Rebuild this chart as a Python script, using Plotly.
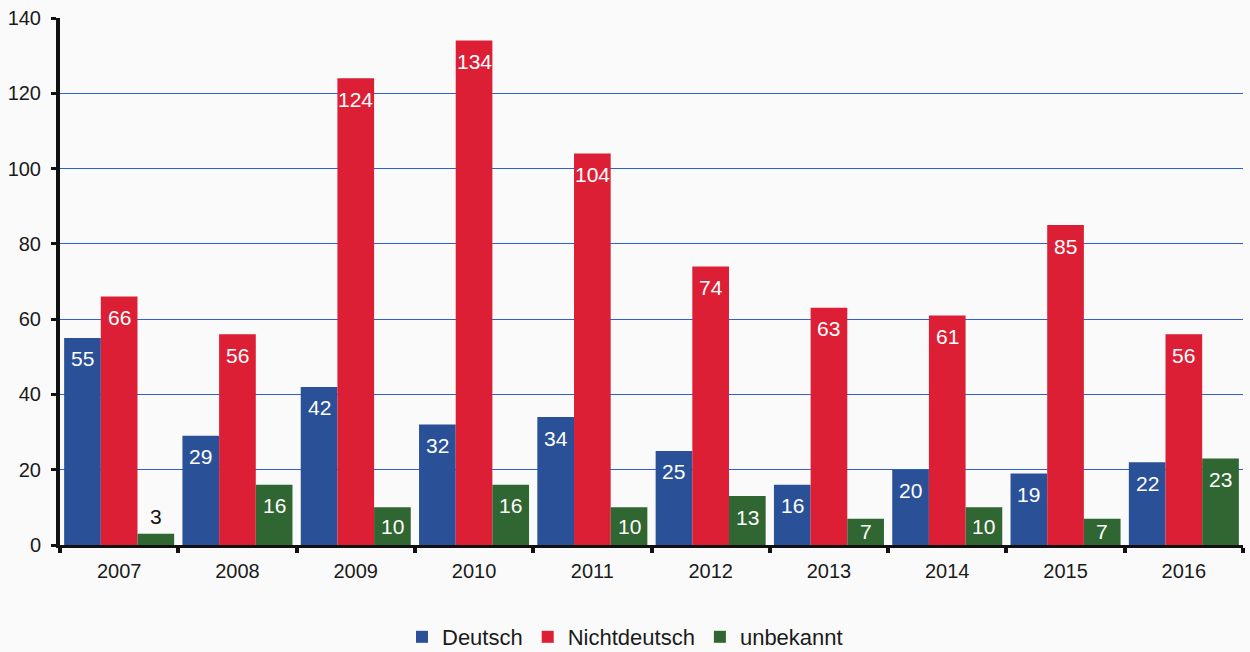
import plotly.graph_objects as go

years = ["2007", "2008", "2009", "2010", "2011", "2012", "2013", "2014", "2015", "2016"]
deutsch = [55, 29, 42, 32, 34, 25, 16, 20, 19, 22]
nichtdeutsch = [66, 56, 124, 134, 104, 74, 63, 61, 85, 56]
unbekannt = [3, 16, 10, 16, 10, 13, 7, 10, 7, 23]
y_ticks = [0, 20, 40, 60, 80, 100, 120, 140]

series = [
    ("Deutsch", deutsch, "#2a5097"),
    ("Nichtdeutsch", nichtdeutsch, "#dd1f36"),
    ("unbekannt", unbekannt, "#2f6631"),
]

W, H = 1250, 652
M = dict(l=60, r=7, t=18, b=107)
YMAX = 140
BARGAP = 0.07
px_per_unit = (H - M["t"] - M["b"]) / YMAX
bar_w = (1 - BARGAP) / len(series)

fig = go.Figure()
annotations = []
for k, (name, vals, color) in enumerate(series):
    fig.add_trace(go.Bar(
        x=years, y=vals, name=name, marker=dict(color=color, line=dict(width=0)),
    ))
    offset = (k - (len(series) - 1) / 2) * bar_w
    for i, v in enumerate(vals):
        h = v * px_per_unit
        if h >= 44:
            a = dict(y=v, yanchor="middle", yshift=-21, font_color="white")
        elif h >= 20:
            a = dict(y=v / 2, yanchor="middle", yshift=0, font_color="white")
        else:
            a = dict(y=v, yanchor="bottom", yshift=4, font_color="#111111")
        annotations.append(dict(
            x=i + offset, xref="x", yref="y", text=str(v), showarrow=False,
            xanchor="center", y=a["y"], yanchor=a["yanchor"], yshift=a["yshift"],
            font=dict(color=a["font_color"], size=21, family="Liberation Sans"),
        ))

fig.update_layout(
    width=W, height=H,
    barmode="group", bargap=BARGAP, bargroupgap=0,
    paper_bgcolor="#fafafa", plot_bgcolor="#fafafa",
    margin=dict(M, autoexpand=False),
    font=dict(family="Liberation Sans", size=20, color="#1a1a1a"),
    annotations=annotations,
    legend=dict(orientation="h", x=0.5, xanchor="center", xref="container",
                y=0.023, yanchor="middle", yref="container",
                font=dict(size=22), itemwidth=30, traceorder="normal"),
    xaxis=dict(showline=True, linecolor="#111111", linewidth=3, ticks="outside",
               tickson="boundaries", ticklen=5, tickwidth=4, tickcolor="#111111",
               tickfont=dict(size=20), showgrid=False, ticklabelstandoff=6),
    yaxis=dict(range=[0, YMAX], tickvals=y_ticks, showline=True, linecolor="#111111",
               linewidth=4, ticks="outside", ticklen=5, tickwidth=3, tickcolor="#111111",
               gridcolor="#2f5fd6", gridwidth=1, zeroline=False, tickfont=dict(size=20),
               ticklabelstandoff=6),
)

fig.write_html("out.html", config=dict(displayModeBar=False),
               post_script="document.body.style.margin='0';document.body.style.overflow='hidden';")
